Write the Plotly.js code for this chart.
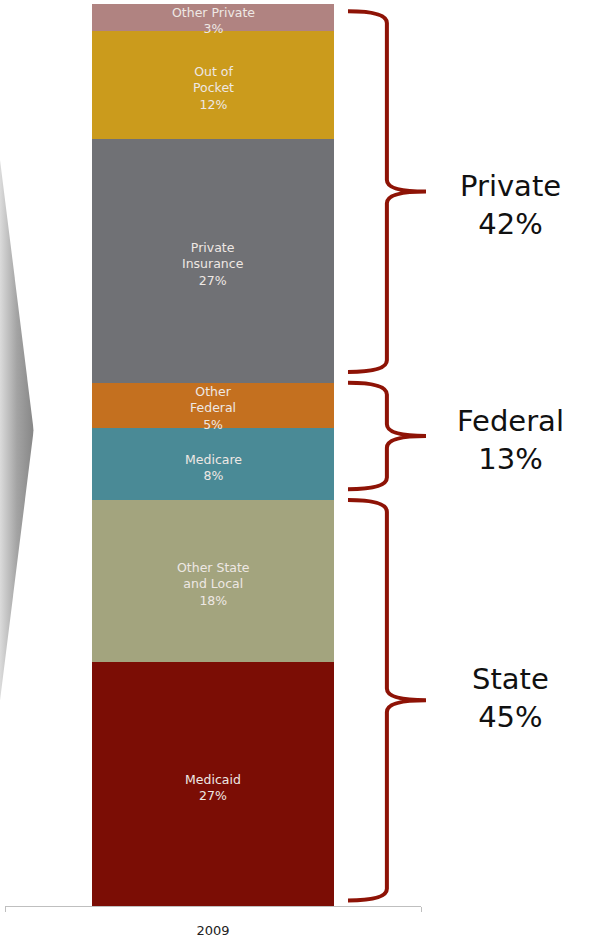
<!DOCTYPE html>
<html><head><meta charset="utf-8">
<script src="https://cdn.plot.ly/plotly-3.0.1.min.js"></script>
<style>html,body{margin:0;padding:0;background:#fff}#chart{width:610px;height:941px}</style>
</head><body><div id="chart"></div>
<script>
// ---- data ----
const categories = ['2009'];
const segments = ['Medicaid', 'Other State and Local', 'Medicare', 'Other Federal', 'Private Insurance', 'Out of Pocket', 'Other Private'];
const segmentLabels = ['Medicaid', 'Other State<br>and Local', 'Medicare', 'Other<br>Federal', 'Private<br>Insurance', 'Out of<br>Pocket', 'Other Private'];
const shares = [27, 18, 8, 5, 27, 12, 3];
const groups = ['State', 'Federal', 'Private'];
const groupShares = [45, 13, 42];

// ---- styles ----
const segmentColors = ['#7B0D05', '#A3A47E', '#4A8A96', '#C4701F', '#707175', '#CB9B1C', '#B08381'];
const braceColor = '#8E1306';
const labelFont = '"DejaVu Sans", sans-serif';

const traces = segments.map((name, i) => ({
  type: 'bar',
  name: name,
  x: categories,
  y: [shares[i]],
  width: 0.58,
  marker: {color: segmentColors[i], line: {width: 0}},
  hoverinfo: 'skip'
}));

const annotations = [];
// segment labels, centred on each stacked segment (x = index of the category)
let cum = 0;
segments.forEach((name, i) => {
  const mid = cum + shares[i] / 2;
  annotations.push({xref: 'x', yref: 'y', x: categories.indexOf('2009'), y: mid, yshift: -3,
    xanchor: 'center', yanchor: 'middle', showarrow: false, align: 'center',
    text: segmentLabels[i] + '<br>' + shares[i] + '%',
    font: {family: labelFont, size: 12.5, color: '#EEE8E4'}});
  cum += shares[i];
});

// braces (paper x, data y)
const bx0 = 0.8245, bx1 = 0.918, bx2 = 1.012;
const inset = 0.6, gapShift = 0.6, r = 1.3;
const shapes = [];
let start = 0;
groups.forEach((g, i) => {
  const lo = start, hi = start + groupShares[i];
  const yT = hi - inset + (hi < 100 ? gapShift : -0.2);
  const yB = lo + inset + (lo > 0 ? gapShift : 0);
  const mid = (yT + yB) / 2;
  const path = `M ${bx0},${yT} Q ${bx1},${yT} ${bx1},${yT - r} L ${bx1},${mid + r} Q ${bx1},${mid} ${bx2},${mid} Q ${bx1},${mid} ${bx1},${mid - r} L ${bx1},${yB + r} Q ${bx1},${yB} ${bx0},${yB}`;
  shapes.push({type: 'path', xref: 'paper', yref: 'y', path: path, line: {color: braceColor, width: 4}});
  annotations.push({xref: 'paper', yref: 'y', x: 1.214, y: (lo + hi) / 2, yshift: [5, 1, -12][i],
    xanchor: 'center', yanchor: 'middle',
    text: g + '<br>' + groupShares[i] + '%', showarrow: false, align: 'center',
    font: {family: labelFont, size: 29, color: '#111'}});
  start = hi;
});

const svg = "<svg xmlns='http://www.w3.org/2000/svg' width='40' height='594' viewBox='0 0 40 594' preserveAspectRatio='none'><defs><linearGradient id='g' x1='0' x2='1' y1='0' y2='0'><stop offset='0' stop-color='#e6e6e6'/><stop offset='0.55' stop-color='#a3a3a3'/><stop offset='1' stop-color='#868686'/></linearGradient></defs><polygon points='0,0 40,297 0,594' fill='url(#g)'/></svg>";
const img = 'data:image/svg+xml;charset=utf-8,' + encodeURIComponent(svg);

const layout = {
  width: 610, height: 941,
  margin: {l: 5, r: 189, t: 4, b: 35},
  paper_bgcolor: '#fff', plot_bgcolor: '#fff',
  barmode: 'stack', showlegend: false, hovermode: false,
  xaxis: {type: 'category', range: [-0.5, 0.5], tickson: 'boundaries', ticks: 'outside', ticklen: 5, tickcolor: '#BFBFBF',
    showline: true, linecolor: '#BFBFBF', linewidth: 1, showgrid: false, zeroline: false, fixedrange: true,
    ticklabelstandoff: 12, tickfont: {family: labelFont, size: 13, color: '#222'}},
  yaxis: {range: [0, 100], visible: false, fixedrange: true},
  shapes: shapes,
  annotations: annotations,
  images: [{source: img, xref: 'paper', yref: 'paper', x: -0.02, y: 0.857, sizex: 0.0889, sizey: 0.659,
    xanchor: 'left', yanchor: 'top', sizing: 'stretch', layer: 'below'}]
};

Plotly.newPlot('chart', traces, layout, {displayModeBar: false, staticPlot: true});
</script>
</body></html>
